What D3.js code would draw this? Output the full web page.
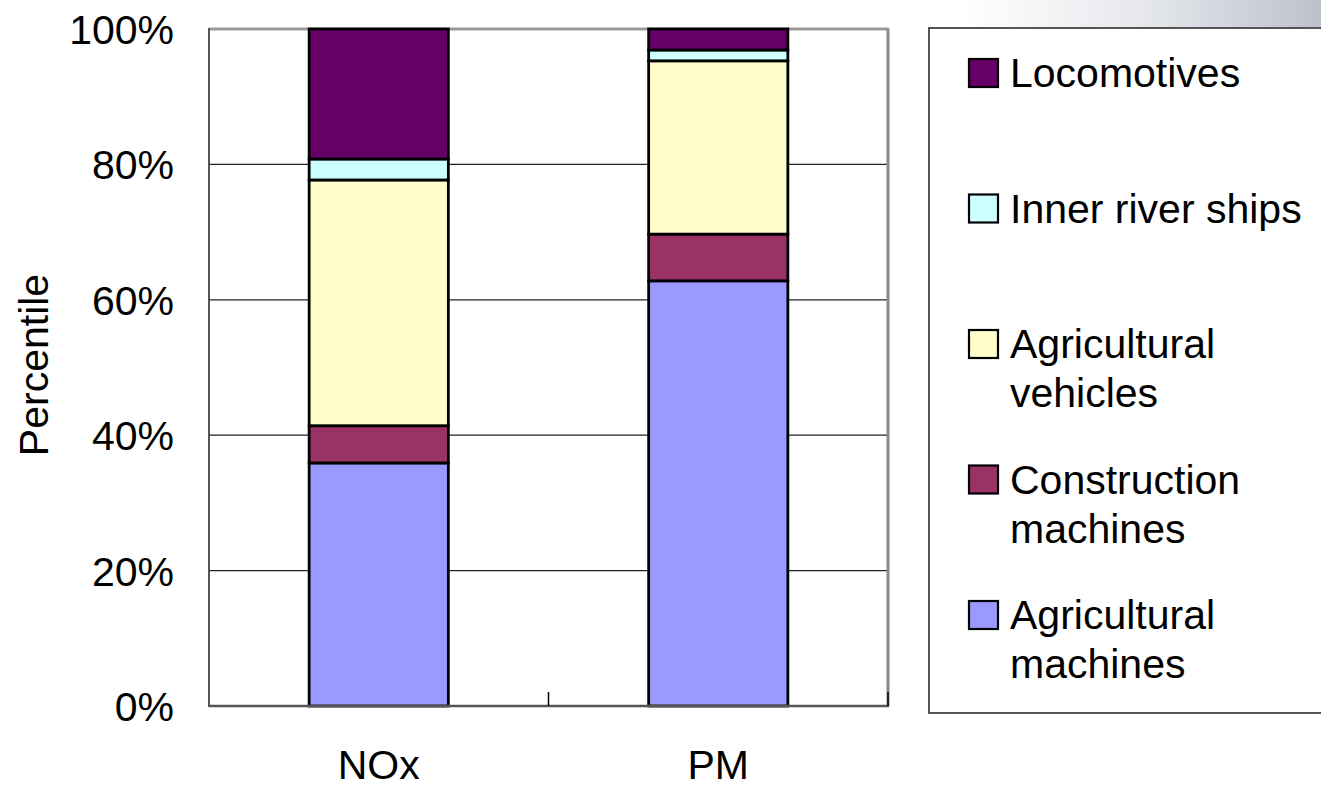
<!DOCTYPE html>
<html>
<head>
<meta charset="utf-8">
<script src="https://cdn.jsdelivr.net/npm/d3@7"></script>
<style>
  html, body { margin: 0; padding: 0; background: #ffffff; }
  svg { display: block; }
  text { font-family: "Liberation Sans", Arial, sans-serif; fill: #000; }
</style>
</head>
<body>
<svg id="chart" width="1321" height="788"></svg>
<script>
// ---- data ----
const categories = ["NOx", "PM"];
const seriesNames = ["Agricultural machines", "Construction machines", "Agricultural vehicles", "Inner river ships", "Locomotives"];
const legendLabels = [["Locomotives"], ["Inner river ships"], ["Agricultural", "vehicles"], ["Construction", "machines"], ["Agricultural", "machines"]];
const agriculturalMachines = [35.9, 62.8];
const constructionMachines = [5.5, 6.9];
const agriculturalVehicles = [36.3, 25.6];
const innerRiverShips = [3.1, 1.6];
const locomotives = [19.2, 3.1];
const seriesColors = ["#9999FF", "#993366", "#FFFFCC", "#CCFFFF", "#660066"];
const yTicks = [0, 0.2, 0.4, 0.6, 0.8, 1.0];
const yTickLabels = ["0%", "20%", "40%", "60%", "80%", "100%"];

// ---- build table ----
const seriesValues = [agriculturalMachines, constructionMachines, agriculturalVehicles, innerRiverShips, locomotives];
const table = categories.map((c, i) => {
  const row = { category: c };
  seriesNames.forEach((s, j) => row[s] = seriesValues[j][i]);
  return row;
});
const stacked = d3.stack().keys(seriesNames).offset(d3.stackOffsetExpand)(table);

const svg = d3.select("#chart");

// background slide gradient (top right)
const defs = svg.append("defs");
const grad = defs.append("linearGradient").attr("id", "bgGrad")
  .attr("x1", "0").attr("y1", "0").attr("x2", "1").attr("y2", "0");
grad.append("stop").attr("offset", "0").attr("stop-color", "#ffffff");
grad.append("stop").attr("offset", "0.5").attr("stop-color", "#e6e8ec");
grad.append("stop").attr("offset", "1").attr("stop-color", "#bcc1cb");
svg.append("rect").attr("x", 960).attr("y", 0).attr("width", 361).attr("height", 30)
  .attr("fill", "url(#bgGrad)");

const plot = { left: 209, right: 888, top: 29, bottom: 706 };

const x = d3.scaleBand().domain(categories)
  .range([plot.left, plot.right]).paddingInner(0.59).paddingOuter(0.295);
const y = d3.scaleLinear().domain([0, 1]).range([plot.bottom, plot.top]);

// gridlines
svg.append("g").selectAll("line").data(yTicks.filter(t => t > 0 && t < 1)).join("line")
  .attr("x1", plot.left).attr("x2", plot.right)
  .attr("y1", d => y(d)).attr("y2", d => y(d))
  .attr("stroke", "#222").attr("stroke-width", 1.2);

// plot frame top & right
svg.append("line").attr("x1", plot.left).attr("x2", plot.right + 1)
  .attr("y1", y(1)).attr("y2", y(1)).attr("stroke", "#999").attr("stroke-width", 3);
svg.append("line").attr("x1", plot.right).attr("x2", plot.right)
  .attr("y1", y(1)).attr("y2", y(0)).attr("stroke", "#8a8a8a").attr("stroke-width", 3);

// bars
svg.append("g").selectAll("g").data(stacked).join("g")
  .attr("fill", (d, i) => seriesColors[i])
  .selectAll("rect").data(d => d).join("rect")
  .attr("x", d => x(d.data.category))
  .attr("width", x.bandwidth())
  .attr("y", d => y(d[1]))
  .attr("height", d => y(d[0]) - y(d[1]))
  .attr("stroke", "#000").attr("stroke-width", 2.8);

// axes
svg.append("line").attr("x1", plot.left).attr("x2", plot.left)
  .attr("y1", y(1) - 1).attr("y2", y(0) + 1).attr("stroke", "#555").attr("stroke-width", 2);
svg.append("line").attr("x1", plot.left).attr("x2", plot.right + 1)
  .attr("y1", y(0)).attr("y2", y(0)).attr("stroke", "#555").attr("stroke-width", 2.5);

// category boundary ticks (inside)
const bounds = [x.step() + plot.left, plot.right];
svg.append("g").selectAll("line").data(bounds).join("line")
  .attr("x1", d => d).attr("x2", d => d)
  .attr("y1", y(0) - 14).attr("y2", y(0))
  .attr("stroke", "#000").attr("stroke-width", 1.5);

// y tick labels
svg.append("g").selectAll("text").data(yTicks).join("text")
  .attr("x", 174).attr("y", d => y(d) + 15)
  .attr("text-anchor", "end").attr("font-size", 41)
  .text((d, i) => yTickLabels[i]);

// x labels
svg.append("g").selectAll("text").data(categories).join("text")
  .attr("x", d => x(d) + x.bandwidth() / 2).attr("y", 779)
  .attr("text-anchor", "middle").attr("font-size", 41)
  .text(d => d);

// y title
svg.append("text").attr("transform", "translate(48,365) rotate(-90)")
  .attr("text-anchor", "middle").attr("font-size", 41).text("Percentile");

// legend
svg.append("rect").attr("x", 929).attr("y", 28).attr("width", 420).attr("height", 685)
  .attr("fill", "#fff").attr("stroke", "#555").attr("stroke-width", 2);

const legendOrder = [4, 3, 2, 1, 0];
const lg = svg.append("g").selectAll("g").data(legendOrder).join("g")
  .attr("transform", (d, i) => `translate(969,${87 + i * 135.5})`);
lg.append("rect").attr("x", 0).attr("y", -28).attr("width", 29).attr("height", 28)
  .attr("fill", d => seriesColors[d]).attr("stroke", "#000").attr("stroke-width", 2.2);
lg.append("text").attr("x", 41).attr("y", 0).attr("font-size", 41)
  .selectAll("tspan").data((d, i) => legendLabels[i]).join("tspan")
  .attr("x", 41).attr("dy", (d, i) => i === 0 ? 0 : 49)
  .text(d => d);
</script>
</body>
</html>
